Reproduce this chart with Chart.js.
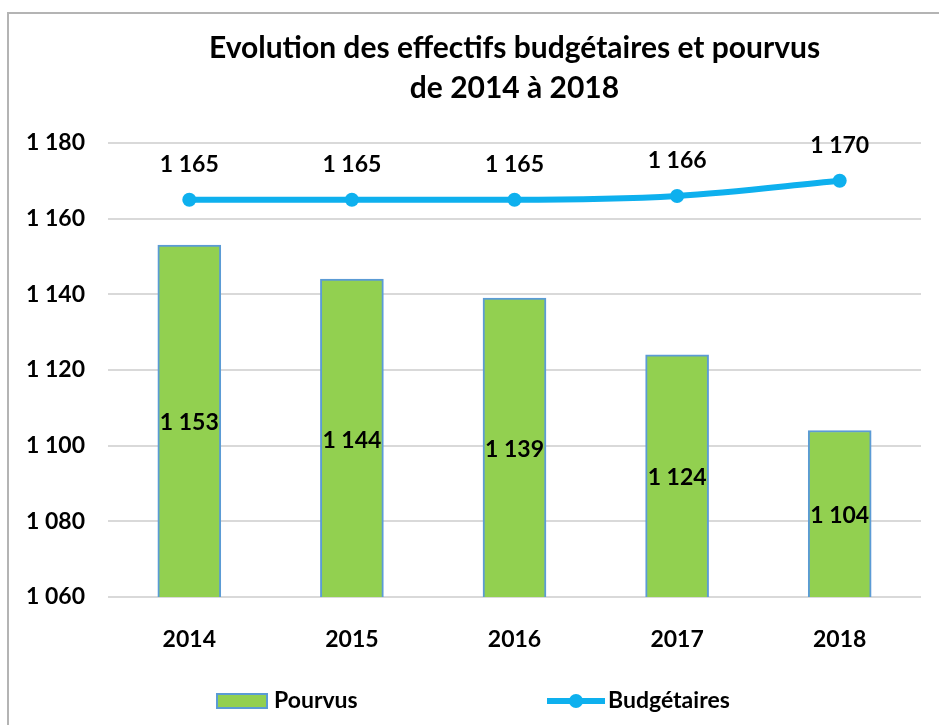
<!DOCTYPE html>
<html lang="fr">
<head>
  <meta charset="UTF-8" />
  <title>Evolution des effectifs</title>
  <script src="https://cdn.jsdelivr.net/npm/chart.js"></script>
  <style>
    html, body { margin: 0; padding: 0; background: #fff; }
    .frame {
      position: absolute; left: 7px; top: 12px; width: 1000px; height: 800px;
      border-left: 2px solid #b4b4b4; border-top: 2px solid #b4b4b4;
    }
    .wrap { position: absolute; left: 0; top: 0; width: 939px; height: 725px; }
  </style>
</head>
<body>
  <div class="frame"></div>
  <div class="wrap"><canvas id="chart" width="939" height="725"></canvas></div>

  <script>
    const years = ['2014', '2015', '2016', '2017', '2018'];
    const pourvus = [1153, 1144, 1139, 1124, 1104];
    const budgetaires = [1165, 1165, 1165, 1166, 1170];
    const yTicks = [1060, 1080, 1100, 1120, 1140, 1160, 1180];

    const FONT = 'Lato, "Open Sans", sans-serif';
    const green = '#92d050';
    const barBorder = '#5b9bd5';
    const blue = '#0eb0ee';

    function fmt(v) {
      return String(v).replace(/\B(?=(\d{3})+(?!\d))/g, ' ');
    }

    // value labels (bars in the middle, line points above)
    const valueLabels = {
      id: 'valueLabels',
      afterDatasetsDraw(chart) {
        const ctx = chart.ctx;
        const yScale = chart.scales.y;
        const base = yScale.getPixelForValue(yScale.min);
        ctx.save();
        ctx.fillStyle = '#000';
        ctx.font = 'bold 23px ' + FONT;
        ctx.textAlign = 'center';
        ctx.textBaseline = 'middle';
        chart.getDatasetMeta(0).data.forEach((bar, i) => {
          const top = yScale.getPixelForValue(pourvus[i]);
          ctx.fillText(fmt(pourvus[i]), bar.x, (top + base) / 2 + 2);
        });
        chart.getDatasetMeta(1).data.forEach((pt, i) => {
          ctx.fillText(fmt(budgetaires[i]), pt.x, pt.y - 35);
        });
        ctx.restore();
      }
    };

    // legend at the bottom, spaced like the original
    const bottomLegend = {
      id: 'bottomLegend',
      afterDraw(chart) {
        const ctx = chart.ctx;
        const y = 701;
        ctx.save();
        ctx.fillStyle = green;
        ctx.fillRect(216, 693, 52, 16);
        ctx.strokeStyle = barBorder;
        ctx.lineWidth = 2;
        ctx.strokeRect(217, 694, 50, 14);

        ctx.strokeStyle = blue;
        ctx.lineWidth = 6;
        ctx.beginPath();
        ctx.moveTo(547, y);
        ctx.lineTo(605, y);
        ctx.stroke();
        ctx.fillStyle = blue;
        ctx.beginPath();
        ctx.arc(576, y, 7, 0, Math.PI * 2);
        ctx.fill();

        ctx.fillStyle = '#000';
        ctx.font = 'bold 23px ' + FONT;
        ctx.textAlign = 'left';
        ctx.textBaseline = 'middle';
        ctx.fillText('Pourvus', 274, y);
        ctx.fillText('Budgétaires', 608, y);
        ctx.restore();
      }
    };

    new Chart(document.getElementById('chart'), {
      data: {
        labels: years,
        datasets: [
          {
            type: 'bar',
            label: 'Pourvus',
            data: pourvus,
            backgroundColor: green,
            borderColor: barBorder,
            borderWidth: 2,
            barThickness: 63,
            order: 2
          },
          {
            type: 'line',
            label: 'Budgétaires',
            data: budgetaires,
            borderColor: blue,
            backgroundColor: blue,
            borderWidth: 6,
            pointRadius: 7,
            pointHoverRadius: 7,
            pointBorderWidth: 0,
            cubicInterpolationMode: 'monotone',
            order: 1
          }
        ]
      },
      options: {
        responsive: false,
        animation: false,
        events: [],
        layout: { padding: { left: 0, right: 18, top: 0, bottom: 68 } },
        plugins: {
          legend: { display: false },
          tooltip: { enabled: false },
          title: {
            display: true,
            fullSize: false,
            text: ['Evolution des effectifs budgétaires et pourvus', 'de 2014 à 2018'],
            color: '#000',
            font: { family: FONT, size: 30, weight: 'bold', lineHeight: 1.333 },
            padding: { top: 28, bottom: 35 }
          }
        },
        scales: {
          x: {
            grid: { display: false },
            border: { display: false },
            ticks: { color: '#000', font: { family: FONT, size: 23, weight: 'bold' }, padding: 21 },
            afterFit(scale) { scale.height = 60; }
          },
          y: {
            min: yTicks[0],
            max: yTicks[yTicks.length - 1],
            afterBuildTicks(scale) { scale.ticks = yTicks.map(v => ({ value: v })); },
            grid: { color: '#d9d9d9', lineWidth: 2, drawTicks: false },
            border: { display: false },
            ticks: {
              color: '#000',
              font: { family: FONT, size: 23, weight: 'bold' },
              padding: 23,
              callback: v => fmt(v)
            },
            afterFit(scale) { scale.width = 108; }
          }
        }
      },
      plugins: [valueLabels, bottomLegend]
    });
  </script>
</body>
</html>
